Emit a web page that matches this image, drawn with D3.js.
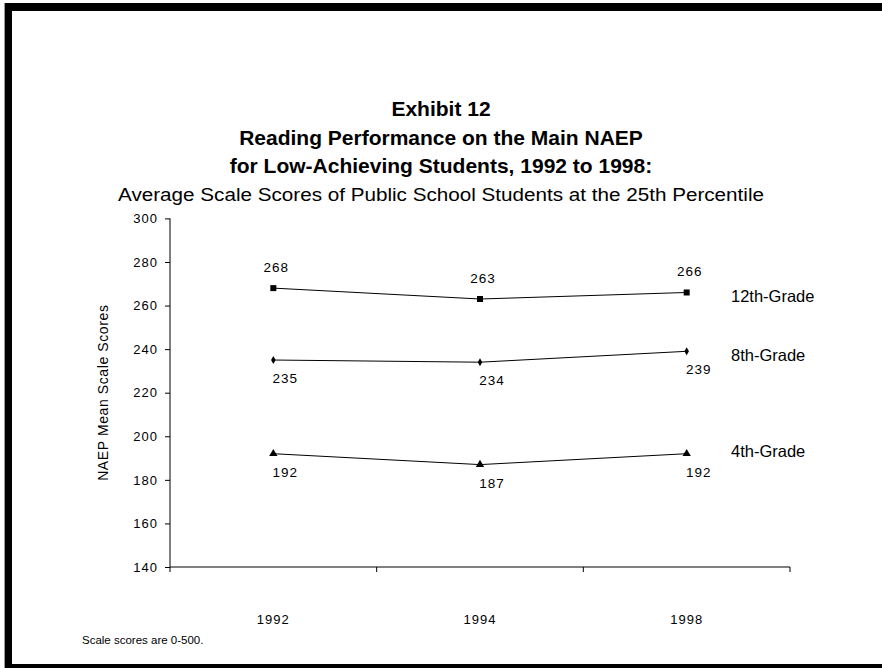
<!DOCTYPE html>
<html>
<head>
<meta charset="utf-8">
<script src="https://cdn.jsdelivr.net/npm/d3@7"></script>
<style>
  html, body { margin: 0; padding: 0; background: #fff; }
  svg { display: block; font-family: Arial, "Liberation Sans", Helvetica, sans-serif; }
</style>
</head>
<body>
<svg id="chart" width="882" height="668"></svg>
<script>
// ---- data ----
const years = ["1992", "1994", "1998"];
const grade12 = [268, 263, 266];
const grade8 = [235, 234, 239];
const grade4 = [192, 187, 192];
const seriesNames = ["12th-Grade", "8th-Grade", "4th-Grade"];
const yTicks = [140, 160, 180, 200, 220, 240, 260, 280, 300];
const titleLines = ["Exhibit 12", "Reading Performance on the Main NAEP", "for Low-Achieving Students, 1992 to 1998:"];
const subtitle = "Average Scale Scores of Public School Students at the 25th Percentile";
const yAxisTitle = "NAEP Mean Scale Scores";
const footnote = "Scale scores are 0-500.";

const svg = d3.select("#chart");
const W = 882, H = 668;

// frame
svg.append("rect").attr("x", 0).attr("y", 0).attr("width", W).attr("height", H).attr("fill", "#fff");
svg.append("rect").attr("x", 4).attr("y", 3).attr("width", 1).attr("height", H).attr("fill", "#999");
svg.append("rect").attr("x", 5).attr("y", 3).attr("width", 7).attr("height", H).attr("fill", "#000");
svg.append("rect").attr("x", 5).attr("y", 3).attr("width", W).attr("height", 8).attr("fill", "#000");
svg.append("rect").attr("x", 5).attr("y", 664).attr("width", W).attr("height", 6).attr("fill", "#000");

// titles
const cx = 441;
svg.selectAll("text.title").data(titleLines).enter().append("text")
  .attr("class", "title")
  .attr("x", cx).attr("y", (d, i) => 116 + i * 28.5)
  .attr("text-anchor", "middle")
  .attr("font-size", 21).attr("font-weight", "bold").attr("fill", "#000")
  .text(d => d);
svg.append("text").attr("x", cx).attr("y", 201)
  .attr("text-anchor", "middle").attr("font-size", 17.5).attr("fill", "#000")
  .attr("textLength", 646).attr("lengthAdjust", "spacingAndGlyphs")
  .text(subtitle);

// scales
const x = d3.scaleBand().domain(years).range([170, 790]).padding(0);
const y = d3.scaleLinear().domain([140, 300]).range([567, 218.4]);

// y axis
const yAxis = d3.axisLeft(y).tickValues(yTicks).tickSize(5).tickPadding(7).tickFormat(d3.format("d"));
const gy = svg.append("g").attr("transform", "translate(170,0)").call(yAxis);
gy.select(".domain").attr("stroke", "#000").attr("d", `M0,${y(300)}V${y(140)}`);
gy.selectAll(".tick line").attr("stroke", "#000");
gy.selectAll(".tick text").attr("font-size", 13).attr("letter-spacing", 1).attr("fill", "#000")
  .attr("font-family", "Arial, 'Liberation Sans', sans-serif");

// x axis: ticks at band edges, labels at centers
const gx = svg.append("g").attr("transform", `translate(0,${y(140)})`);
gx.append("line").attr("x1", 170).attr("x2", 790).attr("stroke", "#000");
const edges = years.map(d => x(d)).concat([x(years[years.length - 1]) + x.bandwidth()]);
gx.selectAll("line.tk").data(edges).enter().append("line")
  .attr("class", "tk").attr("x1", d => d).attr("x2", d => d).attr("y1", 0).attr("y2", 5).attr("stroke", "#000");
gx.selectAll("text").data(years).enter().append("text")
  .attr("x", d => x(d) + x.bandwidth() / 2).attr("y", 57)
  .attr("text-anchor", "middle").attr("font-size", 13).attr("letter-spacing", 1).attr("fill", "#000")
  .text(d => d);

// y axis title
svg.append("text")
  .attr("transform", `translate(108,${(y(140) + y(300)) / 2}) rotate(-90)`)
  .attr("text-anchor", "middle").attr("font-size", 14).attr("letter-spacing", 0.6).attr("fill", "#000")
  .text(yAxisTitle);

// series
const series = [
  { name: seriesNames[0], values: grade12, marker: d3.symbolSquare, size: 36, ldx: 3, ldy: -16, nameDy: 5 },
  { name: seriesNames[1], values: grade8, marker: d3.symbolDiamond, size: 18, ldx: 12, ldy: 23, nameDy: 5 },
  { name: seriesNames[2], values: grade4, marker: d3.symbolTriangle, size: 30, ldx: 12, ldy: 23, nameDy: -2 }
];
const cxOf = d => x(d) + x.bandwidth() / 2;
const line = d3.line().x((d, i) => cxOf(years[i])).y(d => y(d));

series.forEach(s => {
  const g = svg.append("g");
  g.append("path").datum(s.values).attr("d", line).attr("fill", "none").attr("stroke", "#000").attr("stroke-width", 1);
  g.selectAll("path.m").data(s.values).enter().append("path")
    .attr("class", "m")
    .attr("transform", (d, i) => `translate(${cxOf(years[i])},${y(d)})`)
    .attr("d", d3.symbol().type(s.marker).size(s.size)).attr("fill", "#000");
  g.selectAll("text.v").data(s.values).enter().append("text")
    .attr("class", "v")
    .attr("x", (d, i) => cxOf(years[i]) + s.ldx).attr("y", d => y(d) + s.ldy)
    .attr("text-anchor", "middle").attr("font-size", 13.5).attr("letter-spacing", 1).attr("fill", "#000")
    .text(d => d);
  const last = s.values[s.values.length - 1];
  g.append("text").attr("x", 731).attr("y", y(last) + s.nameDy + 5)
    .attr("font-size", 16.5).attr("fill", "#000")
    .text(s.name);
});

// footnote
svg.append("text").attr("x", 82).attr("y", 644).attr("font-size", 11.5).attr("fill", "#000").text(footnote);
</script>
</body>
</html>
